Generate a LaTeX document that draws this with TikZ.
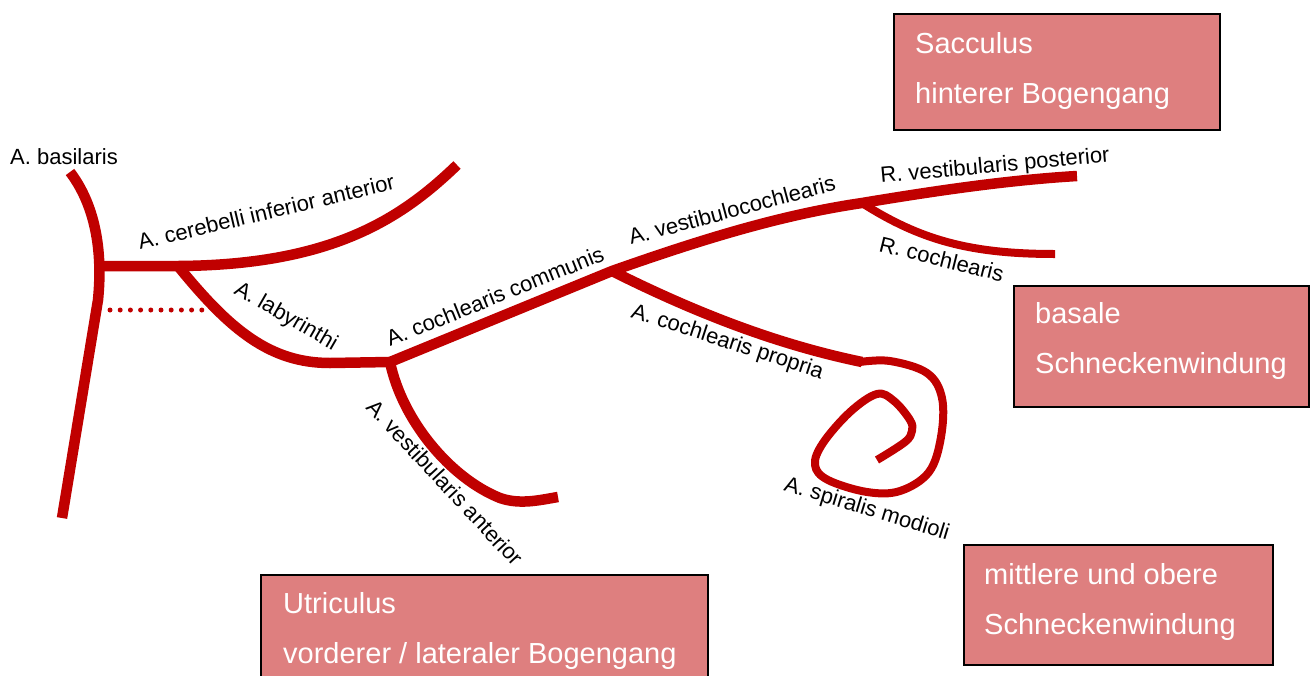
\documentclass[tikz,border=0pt]{standalone}
\usepackage{fontspec}
\setmainfont{Liberation Sans}
\definecolor{vesselred}{HTML}{C00000}
\definecolor{boxfill}{HTML}{DE7F7F}
\begin{document}
\begin{tikzpicture}[x=1pt,y=-1pt,
  vessel/.style={draw=vesselred,line width=10.5pt,line join=round},
  thinvessel/.style={vessel,line width=8pt},
  dotline/.style={draw=vesselred,line width=5pt,line cap=round,dash pattern=on 0pt off 10.2pt},
  lbl/.style={font=\fontsize{22}{26}\selectfont,inner sep=0pt,anchor=base west,text=black},
  infobox/.style={draw=black,line width=1.5pt,fill=boxfill,inner sep=0pt,anchor=north west,rectangle},
  boxtext/.style={font=\fontsize{29}{50}\selectfont,text=white,align=left,inner sep=0pt,anchor=west}]
\useasboundingbox (0,0) rectangle (1315,675);
\clip (0,0) rectangle (1315,675);

% junctions
\coordinate (bastop) at (70,172);
\coordinate (basbot) at (62,518);
\coordinate (aica0) at (100,266);
\coordinate (jlab) at (178,266);
\coordinate (aicaend) at (457,165);
\coordinate (jcc) at (390,362);
\coordinate (jvc) at (612,271);
\coordinate (jrv) at (862,203);
\coordinate (rvpend) at (1077,176);
\coordinate (rcend) at (1055,254);
\coordinate (cpend) at (862,362);
\coordinate (vaend) at (558,497);
\coordinate (dotA) at (110,310);
\coordinate (dotB) at (205,310);

% vessels
\draw[vessel] (bastop) .. controls (95,205) and (103,250) .. (98,300) -- (basbot);
\draw[vessel] (aica0) -- (jlab) .. controls (330,265) and (400,220) .. (aicaend);
\draw[vessel] (jlab) .. controls (230,330) and (270,363) .. (330,363) -- (jcc);
\draw[dotline] (dotA) -- (dotB);
\draw[vessel] (jcc) -- (jvc) .. controls (700,240) and (780,215) .. (jrv)
  .. controls (940,190) and (1010,180) .. (rvpend);
\draw[thinvessel] (jrv) .. controls (920,240) and (970,254) .. (rcend);
\draw[vessel] (jvc) .. controls (700,315) and (780,345) .. (cpend);
\draw[thinvessel] plot[smooth,tension=0.6] coordinates {(860,362) (890,361) (927,373) (942,398) (941,437) (929,472) (900,491) (867,492) (828,480) (815,465) (823,443) (850,412) (877,394) (894,401) (910,420) (912,431) (905,442) (877,460)};
\draw[vessel] (jcc) .. controls (402,420) and (450,478) .. (500,498) .. controls (520,505) and (540,500) .. (vaend);

% labels
\node[lbl] (lbas) at (10,164) {A. basilaris};
\node[lbl,rotate=13.4] (laica) at (140,250) {A. cerebelli inferior anterior};
\node[lbl,rotate=-30] (llab) at (233,293) {A. labyrinthi};
\node[lbl,rotate=22] (lcc) at (390,347) {A. cochlearis communis};
\node[lbl,rotate=15] (lvc) at (631,245) {A. vestibulocochlearis};
\node[lbl,rotate=-18] (lcp) at (630,317) {A. cochlearis propria};
\node[lbl,rotate=5.3] (lrvp) at (881,183) {R. vestibularis posterior};
\node[lbl,rotate=-14] (lrc) at (878,251) {R. cochlearis};
\node[lbl,rotate=-47] (lva) at (365,408) {A. vestibularis anterior};
\node[lbl,rotate=-17] (lsm) at (783,490) {A. spiralis modioli};

% boxes
\node[infobox,minimum width=326pt,minimum height=116pt] (sacc) at (893,13) {};
\node[boxtext] (sacctext) at (915,71) {Sacculus\\hinterer Bogengang};
\node[infobox,minimum width=295pt,minimum height=121pt] (basal) at (1013,285) {};
\node[boxtext] (basaltext) at (1035,341) {basale\\Schneckenwindung};
\node[infobox,minimum width=309pt,minimum height=120pt] (mittl) at (963,544) {};
\node[boxtext] (mittltext) at (984,602) {mittlere und obere\\Schneckenwindung};
\node[infobox,minimum width=447pt,minimum height=130pt] (utric) at (260,574) {};
\node[boxtext] (utrictext) at (283,631) {Utriculus\\vorderer / lateraler Bogengang};
\end{tikzpicture}
\end{document}
